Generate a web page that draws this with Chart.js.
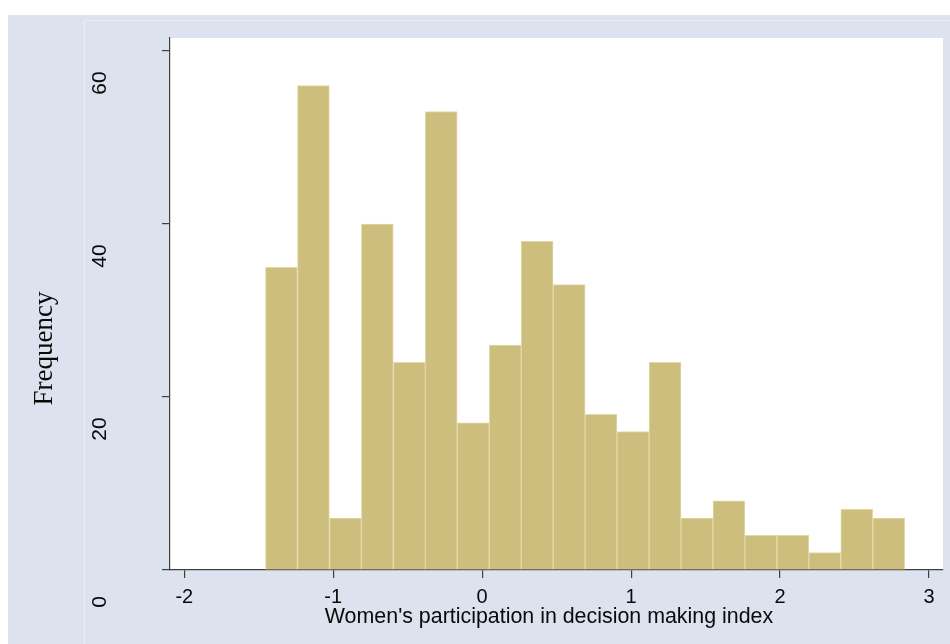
<!DOCTYPE html>
<html>
<head>
<meta charset="utf-8">
<script src="https://cdn.jsdelivr.net/npm/chart.js@4.4.1/dist/chart.umd.min.js"></script>
<style>
  html, body { margin: 0; padding: 0; background: #ffffff; }
  #wrap { width: 950px; height: 644px; }
</style>
</head>
<body>
<div id="wrap"><canvas id="c" width="950" height="644"></canvas></div>
<script>
// ---- Data ----
const binCenters = [-1.348, -1.133, -0.918, -0.704, -0.489, -0.275, -0.060, 0.155, 0.369, 0.584,
                    0.798, 1.013, 1.228, 1.442, 1.657, 1.871, 2.086, 2.300, 2.515, 2.730];
const frequencies = [35, 56, 6, 40, 24, 53, 17, 26, 38, 33,
                     18, 16, 24, 6, 8, 4, 4, 2, 7, 6];
const xTickValues = [-2, -1, 0, 1, 2, 3];
const yTickValues = [0, 20, 40, 60];
const xTitle = "Women's participation in decision making index";
const yTitle = "Frequency";

// ---- Styling ----
const SANS = '"Liberation Sans", Arial, Helvetica, sans-serif';
const SERIF = '"Liberation Serif", "Times New Roman", serif';
const AXIS_COLOR = '#404040';
const TEXT_COLOR = '#0a0a0a';

const stataBackground = {
  id: 'stataBackground',
  beforeDraw(chart) {
    const { ctx, width, height, chartArea: a } = chart;
    ctx.save();
    ctx.fillStyle = '#ffffff';
    ctx.fillRect(0, 0, width, height);
    ctx.fillStyle = '#dce3ee';
    ctx.fillRect(8, 15, width - 8, height - 15);
    ctx.strokeStyle = '#e9edf5';
    ctx.lineWidth = 1;
    ctx.beginPath();
    ctx.moveTo(84.5, height);
    ctx.lineTo(84.5, 20.5);
    ctx.lineTo(width, 20.5);
    ctx.stroke();
    ctx.fillStyle = '#ffffff';
    ctx.fillRect(a.left, a.top, a.right - a.left, a.bottom - a.top);
    ctx.restore();
  }
};

function shiftTitle(scale, dx, dy) {
  if (!scale || scale.__shifted) return;
  const orig = scale.drawTitle;
  scale.drawTitle = function () {
    const ctx = this.ctx;
    ctx.save();
    ctx.translate(dx, dy);
    orig.call(this);
    ctx.restore();
  };
  scale.__shifted = true;
}

const titleShift = {
  id: 'titleShift',
  beforeDraw(chart) {
    shiftTitle(chart.scales.y, 0, 44.5);
    shiftTitle(chart.scales.x, -7.5, 0);
  }
};

function noEdgePadding(s) {
  s.paddingTop = 0;
  s.paddingBottom = 0;
  s.paddingLeft = 0;
  s.paddingRight = 0;
}

const points = binCenters.map((x, i) => ({ x: x, y: frequencies[i] }));

new Chart(document.getElementById('c'), {
  type: 'bar',
  data: {
    datasets: [{
      label: yTitle,
      data: points,
      backgroundColor: '#cdbe7e',
      borderColor: '#e3d9a6',
      borderWidth: 1,
      borderSkipped: 'start',
      barPercentage: 1.0,
      categoryPercentage: 1.0
    }]
  },
  options: {
    responsive: false,
    devicePixelRatio: 1,
    animation: false,
    layout: { padding: { left: 0, top: 38, right: 7, bottom: 0 } },
    plugins: {
      legend: { display: false },
      tooltip: { enabled: false },
      title: { display: false }
    },
    scales: {
      x: {
        type: 'linear',
        offset: false,
        min: -2.096,
        max: 3.094,
        afterBuildTicks: (s) => { s.ticks = xTickValues.map(v => ({ value: v })); },
        afterFit: (s) => { s.height = 74; noEdgePadding(s); },
        grid: { offset: false, drawOnChartArea: false, drawTicks: true, tickLength: 8, color: AXIS_COLOR, lineWidth: 1.2 },
        border: { display: true, color: AXIS_COLOR, width: 1.2 },
        ticks: {
          color: TEXT_COLOR,
          font: { family: SANS, size: 20 },
          padding: 7,
          minRotation: 0,
          maxRotation: 0,
          autoSkip: false
        },
        title: {
          display: true,
          text: xTitle,
          color: TEXT_COLOR,
          font: { family: SANS, size: 21.4 },
          padding: { top: 0, bottom: 14 }
        }
      },
      y: {
        type: 'linear',
        offset: false,
        min: 0,
        max: 61.5,
        afterBuildTicks: (s) => { s.ticks = yTickValues.map(v => ({ value: v })); },
        afterFit: (s) => { s.width = 170; noEdgePadding(s); },
        grid: { offset: false, drawOnChartArea: false, drawTicks: true, tickLength: 8, color: AXIS_COLOR, lineWidth: 1.2 },
        border: { display: true, color: AXIS_COLOR, width: 1.2 },
        ticks: {
          color: TEXT_COLOR,
          font: { family: SANS, size: 21 },
          minRotation: 90,
          maxRotation: 90,
          crossAlign: 'center',
          padding: 50,
          labelOffset: 32,
          autoSkip: false
        },
        title: {
          display: true,
          text: yTitle,
          color: TEXT_COLOR,
          font: { family: SERIF, size: 27 },
          padding: { top: 29, bottom: 0 }
        }
      }
    }
  },
  plugins: [stataBackground, titleShift]
});
</script>
</body>
</html>
